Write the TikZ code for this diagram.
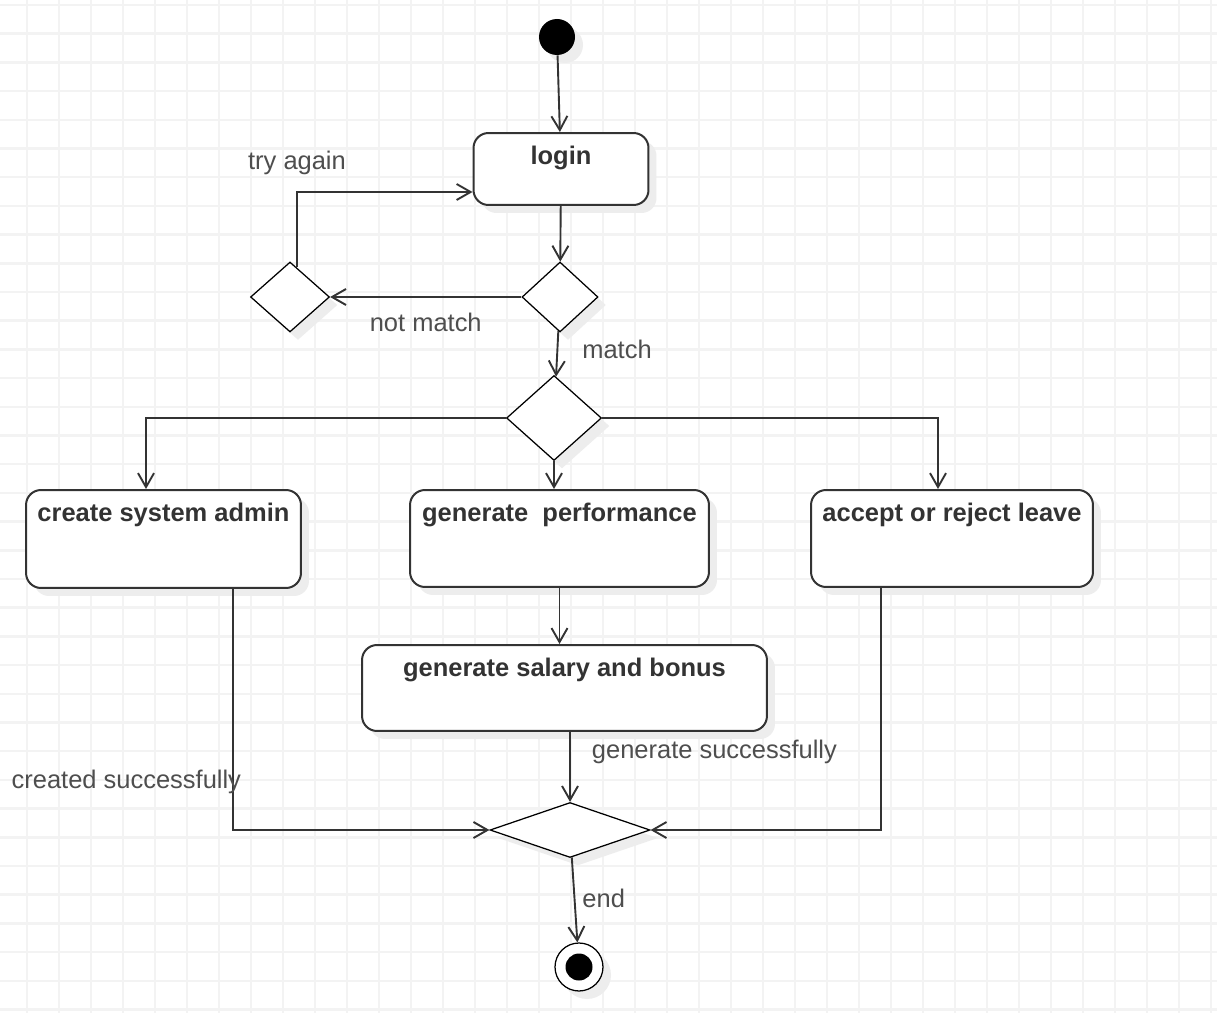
\documentclass[tikz,border=0pt]{standalone}
\usepackage{fontspec}
\setmainfont{Liberation Sans}
\usetikzlibrary{positioning,shapes.geometric,arrows.meta,shadows}

\definecolor{gridgray}{RGB}{243,243,243}
\definecolor{linegray}{RGB}{51,51,51}
\definecolor{labelgray}{RGB}{78,78,78}

\tikzset{
  gridline/.style={draw=gridgray, line width=0.05cm},
  softshadow/.style={drop shadow={shadow xshift=0.16cm, shadow yshift=-0.16cm, fill=black!7, opacity=1}},
  act/.style={draw=linegray, line width=0.04cm, rounded corners=0.3cm, fill=white, inner sep=0pt, softshadow},
  acttext/.style={anchor=north, yshift=-0.28cm, inner sep=0pt, text=linegray, font=\fontsize{14.5}{17}\selectfont\bfseries},
  choice/.style={diamond, draw=black, line width=0.025cm, fill=white, inner sep=0pt, softshadow},
  flow/.style={draw=linegray, line width=0.038cm, -{Straight Barb[length=0.28cm,width=0.32cm]}},
  elbl/.style={inner sep=0pt, text=labelgray, font=\fontsize{14.5}{17}\selectfont},
}

\begin{document}
\begin{tikzpicture}[x=0.02cm, y=-0.02cm]
  \useasboundingbox (0,0) rectangle (1217,1013);
  \fill[white] (0,0) rectangle (1217,1013);
  \foreach \gx in {0,...,37}
    \draw[gridline] (27+32*\gx,0) -- (27+32*\gx,1013);
  \foreach \gy in {0,...,35}
    \draw[gridline] (0,5+28.7*\gy) -- (1217,5+28.7*\gy);

  % states
  \node[circle, fill=black, minimum size=0.72cm, inner sep=0pt, softshadow] (start) at (557,37) {};
  \node[act, minimum width=3.5cm, minimum height=1.44cm, label={[acttext]north:login}] (login) at (561,169) {};
  \node[choice, minimum width=1.52cm, minimum height=1.4cm] (check) at (560,297) {};
  \node[choice, minimum width=1.58cm, minimum height=1.4cm] (retry) at (290,297) {};
  \node[choice, minimum width=1.9cm, minimum height=1.7cm] (role) at (554,418) {};
  \node[act, minimum width=5.5cm, minimum height=1.96cm, label={[acttext]north:create system admin}] (admin) at (163.5,539) {};
  \node[act, minimum width=5.98cm, minimum height=1.94cm, label={[acttext]north:generate\ \ performance}] (perf) at (559.5,538.5) {};
  \node[act, minimum width=5.64cm, minimum height=1.94cm, label={[acttext]north:accept or reject leave}] (leave) at (952,538.5) {};
  \node[act, minimum width=8.1cm, minimum height=1.72cm, label={[acttext]north:generate salary and bonus}] (salary) at (564.5,688) {};
  \node[choice, minimum width=3.2cm, minimum height=1.1cm] (merge) at (570,830) {};
  \node[circle, draw=black, line width=0.025cm, fill=white, minimum size=0.96cm, inner sep=0pt, softshadow] (end) at (579,967) {};
  \fill (end.center) circle (0.27cm);

  % transitions
  \draw[flow] (start) -- (login);
  \draw[flow] (login) -- (check);
  \draw[flow] (check) -- (retry) node[elbl, below=0.3cm, midway] {not match};
  \draw[flow] ([xshift=0.14cm, yshift=-0.12cm]retry.north) |- ([yshift=-0.46cm]login.west) node[elbl, above=0.32cm, pos=0.5] {try again};
  \draw[flow] (check) -- (role) node[elbl, right=0.48cm, pos=0.4] {match};
  \draw[flow] (role.west) -| ([xshift=-0.35cm]admin.north);
  \draw[flow] (role.south) -- (role.south |- perf.north);
  \draw[flow] (role.east) -| ([xshift=-0.28cm]leave.north);
  \draw[flow] (perf.south) -- (perf.south |- salary.north);
  \draw[flow] (salary.south -| merge.north) -- (merge.north) node[elbl, right=0.42cm, pos=0.28] {generate successfully};
  \draw[flow] ([xshift=1.39cm]admin.south) |- (merge.west) node[elbl, anchor=east, xshift=0.18cm, pos=0.4] {created successfully};
  \draw[flow] ([xshift=-1.42cm]leave.south) |- (merge.east);
  \draw[flow] (merge) -- (end) node[elbl, right=0.14cm, pos=0.48] {end};
\end{tikzpicture}
\end{document}
